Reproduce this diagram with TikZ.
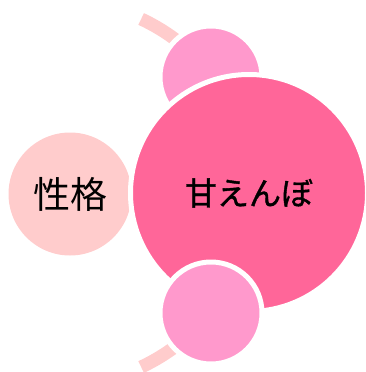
\documentclass[tikz,border=0pt]{standalone}
\usepackage{fontspec}
\newfontfamily\cjk{Noto Sans CJK JP}
\newfontfamily\cjkmed[FakeBold=1.2]{Noto Sans CJK JP}
\definecolor{mainpink}{HTML}{FF6699}
\definecolor{midpink}{HTML}{FF99CC}
\definecolor{palepink}{HTML}{FFCCCC}
\begin{document}
\begin{tikzpicture}[x=1pt,y=-1pt,
  bubble/.style={circle,inner sep=0pt,outer sep=0pt,draw=white,line width=5pt,text=black},
  linkarc/.style={draw=palepink,line width=13pt}]
\useasboundingbox (0,0) rectangle (366,372);
\coordinate (arcc) at (60,193);
\draw[linkarc] ([shift={(65:192pt)}]arcc) arc[start angle=65,end angle=-65,radius=192pt];
\node[bubble,fill=palepink,minimum size=123pt,draw=none] (trait) at (70,194)
  {\cjk\fontsize{37}{42}\selectfont 性格};
\node[bubble,fill=midpink,minimum size=102pt] (top) at (211,77) {};
\node[bubble,fill=mainpink,minimum size=237pt] (main) at (249,193)
  {\cjkmed\fontsize{32}{38}\selectfont 甘えんぼ};
\node[bubble,fill=midpink,minimum size=102pt] (bottom) at (211,313) {};
\end{tikzpicture}
\end{document}
